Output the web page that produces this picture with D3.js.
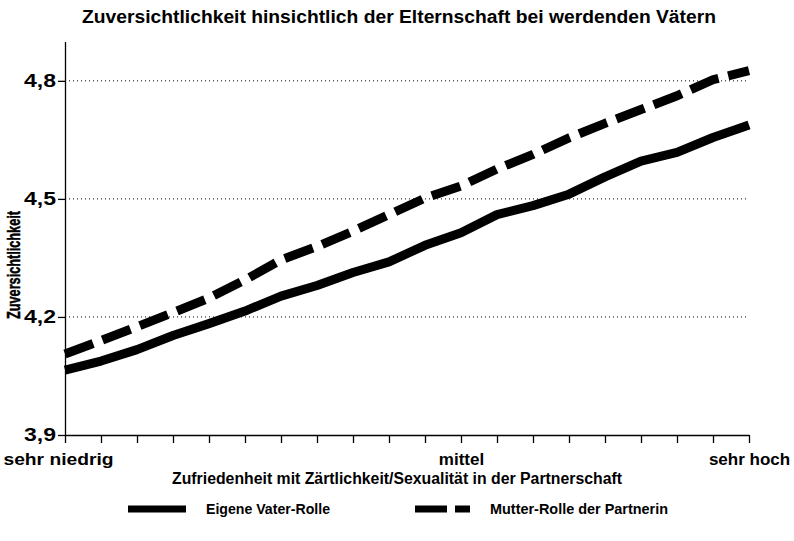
<!DOCTYPE html>
<html>
<head>
<meta charset="utf-8">
<script src="https://cdn.jsdelivr.net/npm/d3@7"></script>
<style>
  html, body { margin: 0; padding: 0; background: #fff; }
  svg { display: block; font-family: "Liberation Sans", Arial, sans-serif; }
</style>
</head>
<body>
<svg id="chart" width="794" height="541"></svg>
<script>
// ---- data ----
const categories = d3.range(1, 21); // 20 points along satisfaction scale
const xTickLabels = ["sehr niedrig", "", "", "", "", "", "", "", "", "", "", "mittel", "", "", "", "", "", "", "", "sehr hoch"];
const seriesNames = ["Eigene Vater-Rolle", "Mutter-Rolle der Partnerin"];
const vaterRolle = [4.065, 4.088, 4.117, 4.153, 4.183, 4.215, 4.253, 4.280, 4.313, 4.340, 4.382, 4.414, 4.460, 4.483, 4.512, 4.556, 4.596, 4.618, 4.656, 4.688];
const mutterRolle = [4.106, 4.140, 4.175, 4.211, 4.248, 4.294, 4.345, 4.379, 4.418, 4.460, 4.502, 4.533, 4.576, 4.613, 4.655, 4.692, 4.727, 4.762, 4.803, 4.826];
const yTicks = [3.9, 4.2, 4.5, 4.8];
const yDomain = [3.9, 4.9];

// ---- layout ----
const svg = d3.select("#chart");
const margin = { left: 65, right: 45, top: 41.5, bottom: 106 };
const W = 794, H = 541;
const x = d3.scalePoint().domain(categories).range([margin.left, W - margin.right]);
const y = d3.scaleLinear().domain(yDomain).range([H - margin.bottom, margin.top]);
const fmt = d => d3.format(".1f")(d).replace(".", ",");

// title
svg.append("text")
  .attr("x", 399).attr("y", 23)
  .attr("text-anchor", "middle")
  .attr("font-size", 18).attr("font-weight", "bold")
  .attr("textLength", 634).attr("lengthAdjust", "spacingAndGlyphs")
  .text("Zuversichtlichkeit hinsichtlich der Elternschaft bei werdenden Vätern");

// gridlines (dotted)
svg.append("g").selectAll("line")
  .data(yTicks.filter(t => t > yDomain[0]))
  .join("line")
  .attr("x1", margin.left).attr("x2", W - margin.right)
  .attr("y1", d => y(d)).attr("y2", d => y(d))
  .attr("stroke", "#000").attr("stroke-width", 1)
  .attr("stroke-dasharray", "1,3");

// y axis
const yAxis = svg.append("g")
  .attr("transform", `translate(${margin.left},0)`)
  .call(d3.axisLeft(y).tickValues(yTicks).tickFormat(fmt).tickSize(7).tickSizeOuter(0));
yAxis.select(".domain").attr("stroke", "#000").attr("stroke-width", 1.3);
yAxis.selectAll(".tick line").attr("stroke-width", 1.3);
yAxis.selectAll("text")
  .attr("font-family", "Liberation Sans, Arial, sans-serif")
  .attr("font-size", 17.5).attr("font-weight", "bold").attr("fill", "#000")
  .attr("x", -9)
  .attr("textLength", 32).attr("lengthAdjust", "spacingAndGlyphs");

// x axis
const xAxis = svg.append("g")
  .attr("transform", `translate(0,${y(yDomain[0])})`)
  .call(d3.axisBottom(x).tickFormat((d, i) => xTickLabels[i]).tickSize(8).tickSizeOuter(0));
xAxis.select(".domain").attr("stroke", "#000").attr("stroke-width", 1.3);
xAxis.selectAll(".tick line").attr("stroke-width", 1.3);
xAxis.selectAll("text")
  .attr("font-family", "Liberation Sans, Arial, sans-serif")
  .attr("font-size", 17).attr("font-weight", "bold").attr("fill", "#000")
  .attr("y", 18)
  .attr("text-anchor", (d, i) => i === 0 ? "start" : "middle")
  .attr("x", (d, i) => i === 0 ? -62 : 0)
  .attr("textLength", (d, i) => i === 0 ? 110 : null)
  .attr("lengthAdjust", "spacingAndGlyphs");

// axis titles
svg.append("text")
  .attr("x", 397).attr("y", 484)
  .attr("text-anchor", "middle")
  .attr("font-size", 16).attr("font-weight", "bold")
  .attr("textLength", 450).attr("lengthAdjust", "spacingAndGlyphs")
  .text("Zufriedenheit mit Zärtlichkeit/Sexualität in der Partnerschaft");

svg.append("text")
  .attr("transform", `translate(20,265) rotate(-90)`)
  .attr("text-anchor", "middle")
  .attr("font-size", 19).attr("font-weight", "bold")
  .attr("stroke", "#000").attr("stroke-width", 0.5)
  .attr("textLength", 108).attr("lengthAdjust", "spacingAndGlyphs")
  .text("Zuversichtlichkeit");

// lines
const line = d3.line().x((d, i) => x(categories[i])).y(d => y(d));
svg.append("path").datum(vaterRolle)
  .attr("d", line).attr("fill", "none")
  .attr("stroke", "#000").attr("stroke-width", 9).attr("stroke-linejoin", "round");
svg.append("path").datum(mutterRolle)
  .attr("d", line).attr("fill", "none")
  .attr("stroke", "#000").attr("stroke-width", 9)
  .attr("stroke-dasharray", "30,10");

// legend
const legend = [
  { name: seriesNames[0], x1: 128, x2: 186, tx: 206, len: 124, dash: null },
  { name: seriesNames[1], x1: 415, x2: 470, tx: 490, len: 178, dash: "32,8" }
];
const lg = svg.append("g");
legend.forEach(l => {
  lg.append("line")
    .attr("x1", l.x1).attr("x2", l.x2).attr("y1", 509).attr("y2", 509)
    .attr("stroke", "#000").attr("stroke-width", 7)
    .attr("stroke-dasharray", l.dash);
  lg.append("text")
    .attr("x", l.tx).attr("y", 514)
    .attr("font-size", 14.5).attr("font-weight", "bold")
    .attr("textLength", l.len).attr("lengthAdjust", "spacingAndGlyphs")
    .text(l.name);
});
</script>
</body>
</html>
